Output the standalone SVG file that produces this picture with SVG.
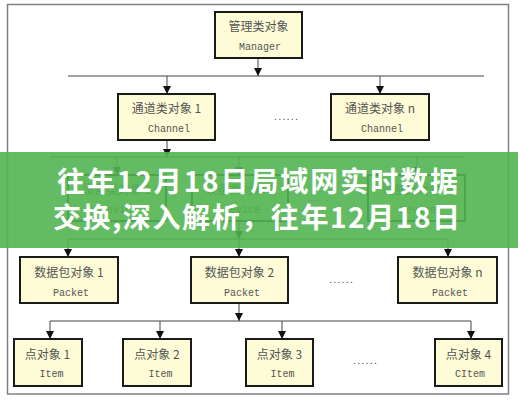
<svg xmlns="http://www.w3.org/2000/svg" width="518" height="400" viewBox="0 0 518 400">
<defs>
<marker id="ah" markerUnits="userSpaceOnUse" markerWidth="8" markerHeight="9" refX="8" refY="4" orient="auto">
<path d="M0,0 L8,4 L0,8 z" fill="#111"/>
</marker>
<style>
.box{fill:#fdfcd6;stroke:#1a1a1a;stroke-width:2}
.cn{font-family:"Noto Sans CJK SC",sans-serif;font-size:12px;fill:#555;text-anchor:middle}
.en{font-family:"Liberation Mono",monospace;font-size:10px;fill:#555;text-anchor:middle}
.dots{font-family:"Liberation Sans",sans-serif;font-size:11px;fill:#555}
.ln{stroke:#444;stroke-width:1;fill:none}
.ar{stroke:#444;stroke-width:1;fill:none;marker-end:url(#ah)}
.ban{font-family:"Noto Sans CJK SC",sans-serif;font-size:28px;font-weight:bold;fill:#fff}
</style>
</defs>
<rect width="518" height="400" fill="#fff"/>
<rect x="7.5" y="4.5" width="501" height="389.5" fill="none" stroke="#808080" stroke-width="1.5"/>

<g id="connectors">
<path class="ar" d="M258,58 V76"/>
<path class="ln" d="M68,76 H484"/>
<path class="ar" d="M167,76 V94"/>
<path class="ar" d="M380,76 V94"/>
<path class="ar" d="M167,140 V157"/>
<path class="ln" d="M50,157 H465"/>
<path class="ar" d="M117,157 V175"/>
<path class="ar" d="M239,157 V175"/>
<path class="ar" d="M417,157 V175"/>
<path class="ar" d="M239,221 V239"/>
<path class="ln" d="M68,239 H448"/>
<path class="ar" d="M68,239 V257"/>
<path class="ar" d="M239,239 V257"/>
<path class="ar" d="M448,239 V257"/>
<path class="ar" d="M239,303 V321"/>
<path class="ln" d="M50,321 H471"/>
<path class="ar" d="M50,321 V339"/>
<path class="ar" d="M160,321 V339"/>
<path class="ar" d="M282,321 V339"/>
<path class="ar" d="M471,321 V339"/>
</g>

<g id="manager">
<rect class="box" x="215" y="12" width="87" height="46"/>
<text class="cn" x="258.5" y="31">管理类对象</text>
<text class="en" x="260" y="50">Manager</text>
</g>

<g id="channel1">
<rect class="box" x="118" y="94" width="97" height="46"/>
<text class="cn" x="166.5" y="113">通道类对象 1</text>
<text class="en" x="169" y="132">Channel</text>
</g>
<text class="dots" x="274" y="120" textLength="24">......</text>
<g id="channeln">
<rect class="box" x="331" y="94" width="98" height="46"/>
<text class="cn" x="380" y="113">通道类对象 n</text>
<text class="en" x="382" y="132">Channel</text>
</g>

<g id="device1">
<rect class="box" x="68" y="175" width="98" height="46"/>
<text class="cn" x="117" y="194">设备类对象 1</text>
<text class="en" x="119" y="213">Device</text>
</g>
<g id="device2">
<rect class="box" x="192" y="175" width="96" height="46"/>
<text class="cn" x="240" y="194">设备类对象 2</text>
<text class="en" x="242" y="213">Device</text>
</g>
<text class="dots" x="309" y="201" textLength="24">......</text>
<g id="devicen">
<rect class="box" x="368" y="175" width="97" height="46"/>
<text class="cn" x="416.5" y="194">设备类对象 n</text>
<text class="en" x="418" y="213">Device</text>
</g>

<g id="packet1">
<rect class="box" x="20" y="257" width="98" height="46"/>
<text class="cn" x="69" y="277">数据包对象 1</text>
<text class="en" x="71" y="296">Packet</text>
</g>
<g id="packet2">
<rect class="box" x="191" y="257" width="97" height="46"/>
<text class="cn" x="239.5" y="277">数据包对象 2</text>
<text class="en" x="242" y="296">Packet</text>
</g>
<text class="dots" x="329" y="283" textLength="24">......</text>
<g id="packetn">
<rect class="box" x="398" y="257" width="99" height="46"/>
<text class="cn" x="447.5" y="277">数据包对象 n</text>
<text class="en" x="450" y="296">Packet</text>
</g>

<g id="item1">
<rect class="box" x="14" y="339" width="68" height="47"/>
<text class="cn" x="47.5" y="359">点对象 1</text>
<text class="en" x="51.5" y="377">Item</text>
</g>
<g id="item2">
<rect class="box" x="123" y="339" width="68" height="47"/>
<text class="cn" x="157" y="359">点对象 2</text>
<text class="en" x="160.5" y="377">Item</text>
</g>
<g id="item3">
<rect class="box" x="246" y="339" width="67" height="47"/>
<text class="cn" x="279.5" y="359">点对象 3</text>
<text class="en" x="282.5" y="377">Item</text>
</g>
<text class="dots" x="353" y="364" textLength="24">......</text>
<g id="item4">
<rect class="box" x="435" y="339" width="67" height="47"/>
<text class="cn" x="468.5" y="359">点对象 4</text>
<text class="en" x="470" y="377">CItem</text>
</g>

<g id="banner">
<rect x="0" y="152" width="518" height="96" fill="#52b452" opacity="0.9"/>
<text class="ban" x="57" y="192" textLength="401" lengthAdjust="spacing">往年12月18日局域网实时数据</text>
<text class="ban" x="53" y="228" textLength="407" lengthAdjust="spacing">交换,深入解析，往年12月18日</text>
</g>
</svg>
